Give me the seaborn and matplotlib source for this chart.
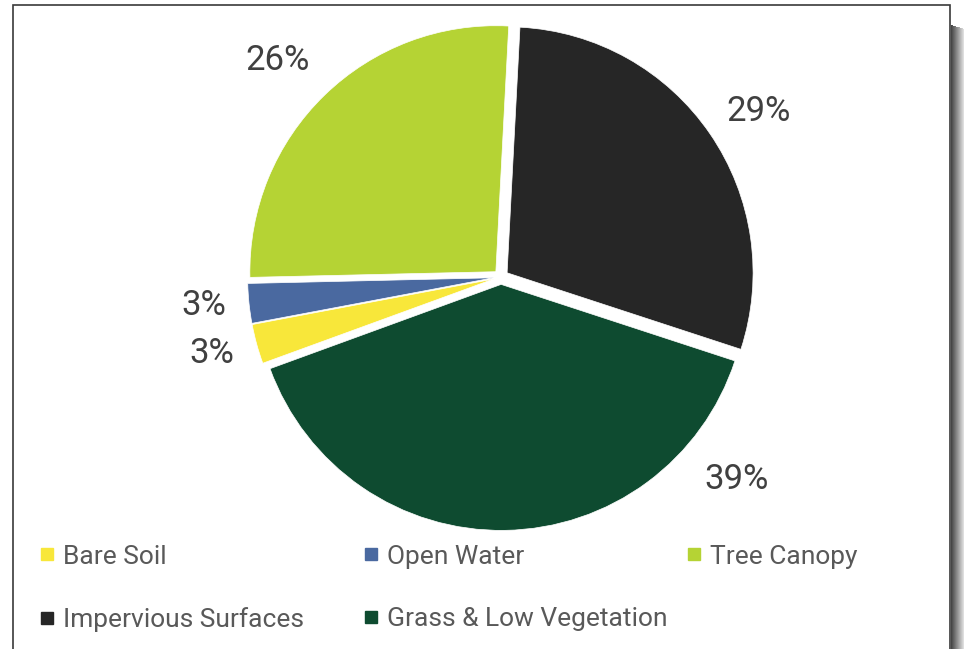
import numpy as np
import matplotlib.pyplot as plt
import seaborn as sns
from matplotlib.patches import Rectangle
from matplotlib.lines import Line2D

# =========================================
# Data
# =========================================

categories = ['Impervious Surfaces', 'Grass & Low Vegetation', 'Bare Soil', 'Open Water', 'Tree Canopy']
shares = [29.2, 39.4, 2.6, 2.6, 26.2]
colors = ['#262626', '#0E4B30', '#F8E73A', '#4A69A0', '#B5D334']

# legend columns (Excel-style order: Bare Soil, Open Water, Tree Canopy, Impervious, Grass)
legend_cols = [['Bare Soil', 'Impervious Surfaces'],
               ['Open Water', 'Grass & Low Vegetation'],
               ['Tree Canopy']]

# =========================================
# Figure
# =========================================

sns.set_theme(style='white')
plt.rcParams['font.family'] = ['Roboto', 'DejaVu Sans']

W, H = 964, 649
fig = plt.figure(figsize=(W / 100, H / 100), dpi=100)
fig.patch.set_facecolor('white')

# chart frame + drop shadow on the right
fig.patches.append(Rectangle((13, -10), 937, 654, transform=None, facecolor='white',
                             edgecolor='#3a3a3a', linewidth=1.2, zorder=-1))
for i in range(14):
    fig.patches.append(Rectangle((951 + i, -10), 1, 644 - 10 - i * 0.3, transform=None,
                                 facecolor='#3c3c3c', edgecolor='none',
                                 alpha=max(0.0, 0.95 - i * 0.065), zorder=-2))

ax = fig.add_axes([0, 0, 1, 1])

wedges, _ = ax.pie(
    shares, colors=colors, startangle=87, counterclock=False,
    explode=[0.03] * len(shares),
    wedgeprops=dict(edgecolor='white', linewidth=0.5))

# Excel "best fit" label placement (angle in degrees, radius in pie radii)
label_pos = [(32.6, 1.245), (-40.6, 1.263), (194.9, 1.216), (185.4, 1.212), (136, 1.265)]
for val, (ang, r) in zip(shares, label_pos):
    a = np.deg2rad(ang)
    ax.text(r * np.cos(a), r * np.sin(a), f'{val:.0f}%', ha='center', va='center',
            color='#404040', fontsize=25)

cx, cy, scale = 501, 277, 246
ax.set_xlim(-cx / scale, (W - cx) / scale)
ax.set_ylim(-(H - cy) / scale, cy / scale)
ax.axis('off')

# =========================================
# Legend
# =========================================

col_x = [29, 353, 676]
for x0, names in zip(col_x, legend_cols):
    handles = [Line2D([], [], marker='s', linestyle='none', markersize=8,
                      color=colors[categories.index(n)]) for n in names]
    fig.legend(handles, names, loc='upper left', bbox_to_anchor=(x0 / W, 1 - 534 / H),
               frameon=False, fontsize=19, labelcolor='#595959', handlelength=0.6,
               handletextpad=0.3, labelspacing=1.45, borderaxespad=0)

plt.savefig('out.png', dpi=100)
